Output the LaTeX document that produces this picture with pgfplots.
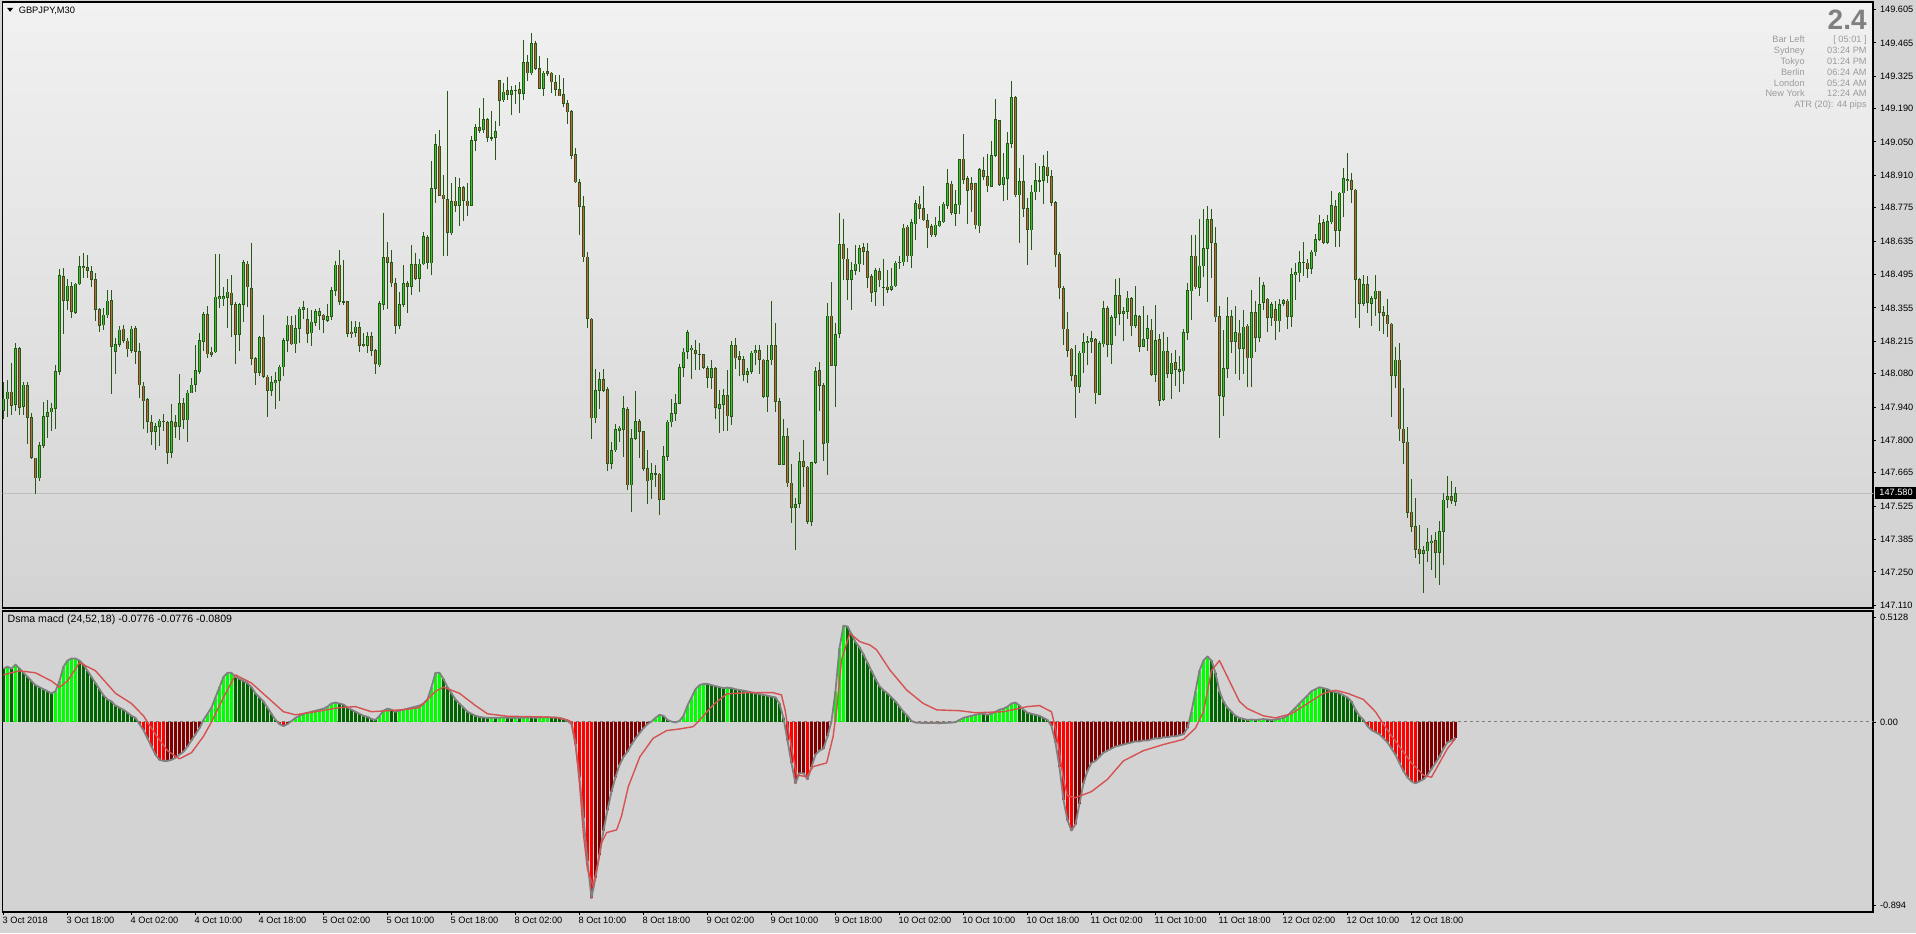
\documentclass[border=0pt]{standalone}
\usepackage{pgfplots}
\pgfplotsset{compat=1.18}
\usepackage{pgfplotstable}
\usepackage{fontspec}
\setmainfont{Liberation Sans}
\definecolor{outerbg}{RGB}{212,212,212}
\definecolor{bgtop}{RGB}{241,241,241}
\definecolor{bgbot}{RGB}{211,211,211}
\definecolor{macdbg}{RGB}{211,211,211}
\definecolor{wick}{RGB}{38,88,22}
\definecolor{bull}{RGB}{58,196,52}
\definecolor{bear}{RGB}{208,94,66}
\definecolor{hlime}{RGB}{0,255,0}
\definecolor{hdgreen}{RGB}{0,100,0}
\definecolor{hred}{RGB}{255,0,0}
\definecolor{hdred}{RGB}{128,0,0}
\definecolor{sigred}{RGB}{214,82,82}
\definecolor{macdgray}{RGB}{128,128,128}
\definecolor{infogray}{RGB}{155,155,155}
\definecolor{pricegray}{RGB}{190,190,190}
\newcommand{\tickfont}{\fontsize{4.6pt}{5.5pt}\selectfont}

\pgfplotstableread{
i o h l c
0 147.927 148.045 147.891 147.975
1 147.975 148.053 147.899 148.005
2 148.005 148.126 147.907 147.948
3 147.953 148.211 147.924 148.186
4 148.186 148.191 147.907 147.940
5 147.943 148.045 147.907 148.034
6 148.032 148.045 147.786 147.899
7 147.899 147.915 147.721 147.729
8 147.729 147.729 147.575 147.644
9 147.644 147.794 147.631 147.781
10 147.781 147.964 147.769 147.902
11 147.902 147.972 147.810 147.919
12 147.919 147.956 147.842 147.937
13 147.935 148.118 147.850 148.089
14 148.089 148.519 148.078 148.492
15 148.488 148.524 148.248 148.386
16 148.386 148.475 148.346 148.448
17 148.446 148.467 148.316 148.341
18 148.337 148.462 148.333 148.456
19 148.456 148.576 148.451 148.529
20 148.524 148.586 148.479 148.529
21 148.524 148.576 148.483 148.511
22 148.508 148.532 148.443 148.475
23 148.475 148.503 148.300 148.349
24 148.349 148.354 148.256 148.284
25 148.284 148.354 148.264 148.326
26 148.326 148.430 148.316 148.386
27 148.386 148.430 147.997 148.195
28 148.172 148.232 148.078 148.203
29 148.203 148.281 148.191 148.264
30 148.268 148.284 148.208 148.219
31 148.216 148.229 148.151 148.183
32 148.177 148.281 148.167 148.268
33 148.268 148.281 148.122 148.172
34 148.172 148.208 147.980 148.032
35 148.029 148.045 147.850 147.967
36 147.972 147.980 147.834 147.880
37 147.875 147.907 147.781 147.838
38 147.838 147.875 147.761 147.859
39 147.859 147.891 147.778 147.883
40 147.883 147.910 147.842 147.883
41 147.875 147.883 147.704 147.750
42 147.750 147.951 147.729 147.880
43 147.875 147.907 147.810 147.859
44 147.859 148.081 147.805 147.956
45 147.956 147.980 147.850 147.888
46 147.888 148.013 147.794 148.001
47 148.001 148.061 147.997 148.034
48 148.034 148.199 148.005 148.094
49 148.089 148.251 148.078 148.219
50 148.216 148.337 148.175 148.329
51 148.329 148.365 148.147 148.164
52 148.172 148.191 148.151 148.162
53 148.172 148.581 148.167 148.402
54 148.394 148.581 148.357 148.402
55 148.394 148.443 148.362 148.402
56 148.399 148.475 148.272 148.423
57 148.419 148.495 148.235 148.370
58 148.370 148.378 148.122 148.245
59 148.245 148.378 148.175 148.370
60 148.370 148.557 148.297 148.545
61 148.540 148.552 148.362 148.443
62 148.438 148.630 148.118 148.143
63 148.143 148.151 148.032 148.086
64 148.086 148.240 148.073 148.232
65 148.232 148.326 148.061 148.070
66 148.066 148.078 147.899 148.010
67 148.010 148.070 147.988 148.045
68 148.042 148.086 147.932 148.053
69 148.053 148.118 147.967 148.110
70 148.110 148.229 148.070 148.221
71 148.219 148.321 148.170 148.284
72 148.284 148.321 148.199 148.204
73 148.204 148.326 148.167 148.269
74 148.269 148.359 148.208 148.350
75 148.350 148.383 148.310 148.359
76 148.308 148.354 148.208 148.248
77 148.251 148.346 148.199 148.297
78 148.294 148.350 148.281 148.342
79 148.324 148.354 148.264 148.341
80 148.326 148.329 148.251 148.308
81 148.302 148.373 148.297 148.321
82 148.321 148.443 148.305 148.430
83 148.430 148.552 148.407 148.535
84 148.535 148.597 148.370 148.383
85 148.383 148.557 148.370 148.381
86 148.383 148.386 148.235 148.248
87 148.255 148.300 148.232 148.248
88 148.253 148.300 148.235 148.276
89 148.276 148.297 148.172 148.199
90 148.203 148.253 148.191 148.199
91 148.199 148.256 148.167 148.237
92 148.235 148.253 148.154 148.178
93 148.178 148.186 148.078 148.123
94 148.118 148.386 148.110 148.375
95 148.370 148.755 148.346 148.568
96 148.568 148.634 148.350 148.545
97 148.545 148.600 148.443 148.459
98 148.459 148.483 148.248 148.284
99 148.281 148.422 148.268 148.370
100 148.370 148.537 148.359 148.459
101 148.459 148.467 148.333 148.446
102 148.446 148.618 148.410 148.537
103 148.537 148.586 148.475 148.480
104 148.480 148.560 148.423 148.540
105 148.540 148.673 148.537 148.654
106 148.651 148.662 148.521 148.545
107 148.544 148.970 148.495 148.857
108 148.857 149.084 148.797 149.040
109 149.035 149.100 148.824 148.828
110 148.828 148.914 148.573 148.811
111 148.811 149.263 148.573 148.670
112 148.670 148.878 148.662 148.803
113 148.803 148.902 148.759 148.784
114 148.784 148.902 148.699 148.860
115 148.860 148.868 148.719 148.805
116 148.805 148.881 148.743 148.784
117 148.784 149.076 148.784 149.056
118 149.056 149.128 149.014 149.112
119 149.112 149.194 149.089 149.099
120 149.104 149.233 149.087 149.144
121 149.144 149.149 149.052 149.068
122 149.069 149.178 149.052 149.069
123 149.069 149.138 148.975 149.095
124 149.308 149.311 149.116 149.225
125 149.225 149.300 149.219 149.259
126 149.267 149.324 149.225 149.251
127 149.250 149.284 149.162 149.266
128 149.267 149.290 149.209 149.267
129 149.271 149.300 149.173 149.254
130 149.254 149.477 149.225 149.384
131 149.384 149.414 149.306 149.340
132 149.340 149.506 149.332 149.462
133 149.462 149.474 149.352 149.357
134 149.357 149.409 149.271 149.274
135 149.274 149.347 149.243 149.340
136 149.347 149.401 149.327 149.336
137 149.339 149.344 149.254 149.300
138 149.300 149.331 149.241 149.271
139 149.271 149.331 149.241 149.243
140 149.250 149.319 149.198 149.211
141 149.211 149.225 149.125 149.177
142 149.178 149.186 148.979 148.995
143 148.998 149.027 148.878 148.884
144 148.881 148.894 148.662 148.781
145 148.781 148.824 148.548 148.569
146 148.569 148.589 148.272 148.310
147 148.310 148.313 147.810 147.896
148 147.896 148.102 147.875 148.010
149 148.010 148.089 147.932 148.057
150 148.057 148.102 148.005 148.010
151 148.016 148.024 147.672 147.704
152 147.704 147.794 147.680 147.761
153 147.761 147.870 147.753 147.847
154 147.842 147.862 147.794 147.854
155 147.847 147.988 147.732 147.935
156 147.932 147.940 147.594 147.615
157 147.615 147.850 147.502 147.810
158 147.810 148.008 147.802 147.880
159 147.880 147.891 147.729 147.839
160 147.839 147.842 147.672 147.683
161 147.683 147.761 147.534 147.631
162 147.635 147.708 147.555 147.664
163 147.661 147.700 147.607 147.661
164 147.661 147.664 147.490 147.555
165 147.555 147.778 147.553 147.734
166 147.734 147.888 147.713 147.878
167 147.878 147.975 147.859 147.915
168 147.915 147.997 147.883 147.956
169 147.956 148.122 147.953 148.107
170 148.107 148.188 148.066 148.172
171 148.172 148.264 148.143 148.253
172 148.180 148.199 148.057 148.188
173 148.178 148.221 148.094 148.164
174 148.162 148.208 148.097 148.162
175 148.162 148.162 148.102 148.107
176 148.102 148.113 148.021 148.065
177 148.065 148.138 148.016 148.102
178 148.102 148.110 147.891 147.937
179 147.935 148.013 147.831 147.951
180 147.951 148.016 147.842 147.988
181 147.988 148.094 147.842 147.902
182 147.902 148.216 147.867 148.199
183 148.199 148.229 148.102 148.146
184 148.151 148.175 148.070 148.139
185 148.139 148.154 148.049 148.078
186 148.078 148.105 148.042 148.089
187 148.089 148.175 148.078 148.167
188 148.167 148.199 148.118 148.178
189 148.178 148.199 148.078 148.139
190 148.139 148.143 147.980 147.985
191 147.985 148.204 147.920 148.138
192 148.138 148.386 148.118 148.199
193 148.199 148.292 147.920 147.964
194 147.964 147.980 147.701 147.701
195 147.701 147.891 147.701 147.818
196 147.818 147.854 147.607 147.623
197 147.623 147.701 147.453 147.521
198 147.521 147.562 147.344 147.534
199 147.537 147.753 147.518 147.713
200 147.713 147.802 147.607 147.691
201 147.691 147.696 147.453 147.461
202 147.461 147.713 147.445 147.709
203 147.709 148.107 147.704 148.091
204 148.094 148.130 147.924 148.032
205 148.032 148.040 147.713 147.789
206 147.789 148.378 147.656 148.321
207 148.321 148.464 148.115 148.115
208 148.115 148.294 147.940 148.245
209 148.248 148.755 148.229 148.621
210 148.621 148.727 148.472 148.561
211 148.561 148.605 148.389 148.475
212 148.475 148.548 148.349 148.513
213 148.513 148.621 148.495 148.540
214 148.540 148.621 148.508 148.605
215 148.608 148.626 148.537 148.592
216 148.592 148.630 148.440 148.483
217 148.488 148.500 148.381 148.419
218 148.423 148.524 148.365 148.513
219 148.508 148.524 148.443 148.471
220 148.443 148.560 148.365 148.443
221 148.443 148.513 148.419 148.432
222 148.432 148.524 148.427 148.448
223 148.448 148.552 148.443 148.545
224 148.548 148.573 148.521 148.548
225 148.548 148.706 148.532 148.691
226 148.694 148.703 148.548 148.573
227 148.573 148.727 148.521 148.714
228 148.707 148.808 148.638 148.792
229 148.792 148.824 148.727 148.772
230 148.772 148.865 148.719 148.724
231 148.724 148.748 148.605 148.691
232 148.698 148.706 148.654 148.662
233 148.662 148.738 148.651 148.703
234 148.699 148.784 148.694 148.719
235 148.716 148.800 148.711 148.792
236 148.784 148.935 148.771 148.876
237 148.876 148.888 148.746 148.755
238 148.751 148.849 148.698 148.787
239 148.787 148.979 148.748 148.979
240 148.979 149.084 148.873 148.894
241 148.897 148.909 148.707 148.849
242 148.878 148.905 148.759 148.849
243 148.878 148.881 148.686 148.703
244 148.699 148.941 148.667 148.935
245 148.933 148.987 148.889 148.905
246 148.905 149.000 148.841 148.865
247 148.865 149.056 148.862 148.995
248 148.995 149.233 148.987 149.144
249 149.141 149.144 148.868 148.873
250 148.873 149.003 148.805 148.905
251 148.897 149.092 148.808 149.043
252 149.043 149.306 149.024 149.238
253 149.238 149.241 148.819 148.829
254 148.829 148.943 148.630 148.886
255 148.886 148.995 148.735 148.772
256 148.772 148.816 148.537 148.683
257 148.683 148.873 148.600 148.841
258 148.841 148.962 148.808 148.889
259 148.889 148.949 148.844 148.889
260 148.889 148.998 148.792 148.949
261 148.946 149.011 148.878 148.910
262 148.905 148.935 148.784 148.797
263 148.797 148.805 148.527 148.578
264 148.578 148.589 148.394 148.438
265 148.438 148.446 148.199 148.269
266 148.268 148.337 148.151 148.178
267 148.183 148.188 148.050 148.073
268 148.073 148.203 147.896 148.026
269 148.026 148.175 148.001 148.167
270 148.167 148.251 148.086 148.211
271 148.211 148.240 148.118 148.216
272 148.216 148.260 148.167 148.227
273 148.224 148.232 147.956 148.000
274 147.993 148.216 147.992 148.208
275 148.204 148.386 148.191 148.354
276 148.354 148.362 148.151 148.203
277 148.203 148.326 148.123 148.316
278 148.316 148.479 148.240 148.407
279 148.407 148.483 148.284 148.333
280 148.333 148.362 148.216 148.342
281 148.341 148.427 148.310 148.397
282 148.397 148.402 148.240 148.281
283 148.281 148.446 148.272 148.324
284 148.321 148.326 148.172 148.195
285 148.195 148.362 148.191 148.224
286 148.227 148.326 148.175 148.269
287 148.264 148.308 148.070 148.078
288 148.078 148.370 148.045 148.219
289 148.224 148.248 147.945 147.969
290 147.972 148.256 147.964 148.175
291 148.175 148.232 148.061 148.083
292 148.083 148.167 147.977 148.126
293 148.126 148.178 148.029 148.099
294 148.099 148.156 148.005 148.091
295 148.091 148.268 148.037 148.253
296 148.253 148.459 148.221 148.427
297 148.427 148.662 148.305 148.573
298 148.573 148.662 148.435 148.443
299 148.443 148.727 148.407 148.532
300 148.532 148.768 148.487 148.605
301 148.605 148.781 148.381 148.727
302 148.727 148.772 148.483 148.630
303 148.626 148.694 148.297 148.318
304 148.321 148.365 147.813 147.988
305 147.985 148.264 147.904 148.102
306 148.102 148.399 148.061 148.321
307 148.321 148.346 148.167 148.216
308 148.216 148.365 148.078 148.253
309 148.251 148.305 148.053 148.186
310 148.186 148.346 148.078 148.276
311 148.281 148.289 148.024 148.147
312 148.147 148.430 148.024 148.337
313 148.337 148.386 148.172 148.232
314 148.232 148.487 148.216 148.370
315 148.378 148.464 148.346 148.451
316 148.394 148.397 148.256 148.316
317 148.316 148.383 148.281 148.370
318 148.350 148.383 148.221 148.302
319 148.302 148.394 148.256 148.370
320 148.373 148.394 148.362 148.386
321 148.386 148.394 148.269 148.321
322 148.321 148.524 148.277 148.495
323 148.495 148.545 148.389 148.503
324 148.503 148.594 148.467 148.548
325 148.548 148.634 148.488 148.548
326 148.545 148.560 148.483 148.521
327 148.521 148.600 148.500 148.589
328 148.589 148.667 148.573 148.643
329 148.643 148.743 148.638 148.711
330 148.714 148.727 148.621 148.630
331 148.630 148.746 148.625 148.719
332 148.716 148.844 148.706 148.784
333 148.781 148.808 148.613 148.681
334 148.681 148.844 148.613 148.837
335 148.837 148.941 148.735 148.897
336 148.889 149.003 148.845 148.893
337 148.889 148.922 148.795 148.852
338 148.849 148.854 148.316 148.475
339 148.475 148.480 148.272 148.375
340 148.375 148.492 148.365 148.454
341 148.454 148.492 148.337 148.378
342 148.375 148.406 148.281 148.394
343 148.394 148.492 148.324 148.427
344 148.427 148.427 148.260 148.337
345 148.337 148.362 148.248 148.324
346 148.326 148.394 148.235 148.289
347 148.289 148.294 147.899 148.073
348 148.073 148.191 148.021 148.139
349 148.139 148.208 147.799 147.850
350 147.850 148.021 147.704 147.794
351 147.794 147.859 147.477 147.498
352 147.502 147.639 147.417 147.441
353 147.441 147.558 147.307 147.344
354 147.347 147.445 147.282 147.328
355 147.328 147.359 147.161 147.342
356 147.339 147.437 147.291 147.375
357 147.375 147.407 147.258 147.380
358 147.383 147.420 147.226 147.331
359 147.331 147.466 147.196 147.420
360 147.420 147.583 147.279 147.553
361 147.553 147.651 147.518 147.566
362 147.566 147.631 147.534 147.550
363 147.545 147.604 147.526 147.580
}\candles

\pgfplotstableread[row sep=\\]{
i m k\\
0 0.26 2\\ 1 0.27 1\\ 2 0.26 2\\ 3 0.28 1\\ 4 0.26 2\\ 5 0.24 2\\ 6 0.22 2\\ 7 0.20 2\\ 8 0.18 2\\ 9 0.17 2\\
10 0.16 2\\ 11 0.15 2\\ 12 0.14 2\\ 13 0.15 1\\ 14 0.20 1\\ 15 0.27 1\\ 16 0.30 1\\ 17 0.31 1\\ 18 0.31 1\\ 19 0.30 2\\
20 0.28 2\\ 21 0.25 2\\ 22 0.22 2\\ 23 0.19 2\\ 24 0.16 2\\ 25 0.13 2\\ 26 0.11 2\\ 27 0.10 2\\ 28 0.08 2\\ 29 0.07 2\\
30 0.06 2\\ 31 0.045 2\\ 32 0.03 2\\ 33 0.02 2\\ 34 -0.01 3\\ 35 -0.04 3\\ 36 -0.08 3\\ 37 -0.12 3\\ 38 -0.16 3\\ 39 -0.185 3\\
40 -0.19 3\\ 41 -0.19 4\\ 42 -0.185 4\\ 43 -0.175 4\\ 44 -0.16 4\\ 45 -0.145 4\\ 46 -0.12 4\\ 47 -0.09 4\\ 48 -0.06 4\\ 49 -0.03 4\\
50 0.01 1\\ 51 0.04 1\\ 52 0.07 1\\ 53 0.12 1\\ 54 0.17 1\\ 55 0.22 1\\ 56 0.24 1\\ 57 0.24 1\\ 58 0.22 2\\ 59 0.21 2\\
60 0.20 2\\ 61 0.19 2\\ 62 0.17 2\\ 63 0.14 2\\ 64 0.12 2\\ 65 0.10 2\\ 66 0.07 2\\ 67 0.04 2\\ 68 0.01 2\\ 69 -0.01 3\\
70 -0.02 3\\ 71 -0.01 4\\ 72 0.005 1\\ 73 0.02 1\\ 74 0.03 1\\ 75 0.04 1\\ 76 0.045 1\\ 77 0.05 1\\ 78 0.055 1\\ 79 0.06 1\\
80 0.065 1\\ 81 0.075 1\\ 82 0.09 1\\ 83 0.095 1\\ 84 0.09 2\\ 85 0.085 2\\ 86 0.07 2\\ 87 0.06 2\\ 88 0.05 2\\ 89 0.04 2\\
90 0.03 2\\ 91 0.025 2\\ 92 0.015 2\\ 93 0.01 2\\ 94 0.03 1\\ 95 0.055 1\\ 96 0.065 1\\ 97 0.06 2\\ 98 0.05 2\\ 99 0.055 1\\
100 0.06 1\\ 101 0.065 1\\ 102 0.07 1\\ 103 0.075 1\\ 104 0.08 1\\ 105 0.09 1\\ 106 0.11 1\\ 107 0.17 1\\ 108 0.24 1\\ 109 0.24 1\\
110 0.21 2\\ 111 0.17 2\\ 112 0.14 2\\ 113 0.11 2\\ 114 0.09 2\\ 115 0.07 2\\ 116 0.05 2\\ 117 0.04 2\\ 118 0.03 2\\ 119 0.025 2\\
120 0.022 2\\ 121 0.02 2\\ 122 0.021 1\\ 123 0.02 2\\ 124 0.021 1\\ 125 0.022 1\\ 126 0.021 2\\ 127 0.02 2\\ 128 0.021 1\\ 129 0.02 2\\
130 0.021 1\\ 131 0.022 1\\ 132 0.022 2\\ 133 0.021 2\\ 134 0.022 1\\ 135 0.022 1\\ 136 0.023 1\\ 137 0.022 2\\ 138 0.022 2\\ 139 0.02 2\\
140 0.015 2\\ 141 0.005 2\\ 142 -0.01 3\\ 143 -0.11 3\\ 144 -0.27 3\\ 145 -0.47 3\\ 146 -0.68 3\\ 147 -0.86 3\\ 148 -0.76 4\\ 149 -0.65 4\\
150 -0.53 4\\ 151 -0.43 4\\ 152 -0.34 4\\ 153 -0.27 4\\ 154 -0.21 4\\ 155 -0.17 4\\ 156 -0.145 4\\ 157 -0.11 4\\ 158 -0.08 4\\ 159 -0.055 4\\
160 -0.03 4\\ 161 -0.01 4\\ 162 0.002 1\\ 163 0.02 1\\ 164 0.035 1\\ 165 0.03 2\\ 166 0.01 2\\ 167 0.002 2\\ 168 -0.002 4\\ 169 0.005 1\\
170 0.03 1\\ 171 0.08 1\\ 172 0.12 1\\ 173 0.16 1\\ 174 0.18 1\\ 175 0.186 1\\ 176 0.186 2\\ 177 0.18 2\\ 178 0.175 2\\ 179 0.17 2\\
180 0.165 2\\ 181 0.168 1\\ 182 0.165 2\\ 183 0.16 2\\ 184 0.156 2\\ 185 0.153 2\\ 186 0.149 2\\ 187 0.145 2\\ 188 0.14 2\\ 189 0.136 2\\
190 0.132 2\\ 191 0.128 2\\ 192 0.124 2\\ 193 0.12 2\\ 194 0.09 2\\ 195 0.02 2\\ 196 -0.09 3\\ 197 -0.20 3\\ 198 -0.30 3\\ 199 -0.25 4\\
200 -0.25 4\\ 201 -0.28 3\\ 202 -0.22 4\\ 203 -0.16 4\\ 204 -0.14 4\\ 205 -0.13 4\\ 206 -0.07 4\\ 207 0.002 1\\ 208 0.15 1\\ 209 0.36 1\\
210 0.47 1\\ 211 0.466 2\\ 212 0.43 2\\ 213 0.39 2\\ 214 0.365 2\\ 215 0.33 2\\ 216 0.29 2\\ 217 0.25 2\\ 218 0.21 2\\ 219 0.175 2\\
220 0.155 2\\ 221 0.14 2\\ 222 0.12 2\\ 223 0.10 2\\ 224 0.075 2\\ 225 0.05 2\\ 226 0.03 2\\ 227 0.005 2\\ 228 -0.003 3\\ 229 -0.004 3\\
230 -0.005 3\\ 231 -0.005 4\\ 232 -0.005 3\\ 233 -0.005 4\\ 234 -0.006 3\\ 235 -0.005 4\\ 236 -0.004 4\\ 237 -0.003 4\\ 238 -0.001 4\\ 239 0.01 1\\
240 0.02 1\\ 241 0.025 1\\ 242 0.03 1\\ 243 0.035 1\\ 244 0.04 1\\ 245 0.04 2\\ 246 0.035 2\\ 247 0.04 1\\ 248 0.05 1\\ 249 0.06 1\\
250 0.065 1\\ 251 0.075 1\\ 252 0.09 1\\ 253 0.095 1\\ 254 0.08 2\\ 255 0.06 2\\ 256 0.045 2\\ 257 0.04 2\\ 258 0.035 2\\ 259 0.03 2\\
260 0.02 2\\ 261 0.01 2\\ 262 -0.02 3\\ 263 -0.10 3\\ 264 -0.22 3\\ 265 -0.38 3\\ 266 -0.48 3\\ 267 -0.53 3\\ 268 -0.50 4\\ 269 -0.40 4\\
270 -0.30 4\\ 271 -0.24 4\\ 272 -0.20 4\\ 273 -0.19 4\\ 274 -0.17 4\\ 275 -0.15 4\\ 276 -0.14 4\\ 277 -0.13 4\\ 278 -0.12 4\\ 279 -0.115 4\\
280 -0.11 4\\ 281 -0.105 4\\ 282 -0.10 4\\ 283 -0.095 4\\ 284 -0.095 4\\ 285 -0.09 4\\ 286 -0.09 4\\ 287 -0.085 4\\ 288 -0.08 4\\ 289 -0.08 4\\
290 -0.075 4\\ 291 -0.075 4\\ 292 -0.07 4\\ 293 -0.07 4\\ 294 -0.065 4\\ 295 -0.06 4\\ 296 -0.03 4\\ 297 0.05 1\\ 298 0.15 1\\ 299 0.25 1\\
300 0.30 1\\ 301 0.32 1\\ 302 0.30 2\\ 303 0.24 2\\ 304 0.15 2\\ 305 0.10 2\\ 306 0.07 2\\ 307 0.05 2\\ 308 0.03 2\\ 309 0.02 2\\
310 0.015 2\\ 311 0.01 2\\ 312 0.012 1\\ 313 0.01 2\\ 314 0.012 1\\ 315 0.014 1\\ 316 0.012 2\\ 317 0.01 2\\ 318 0.012 1\\ 319 0.015 1\\
320 0.02 1\\ 321 0.03 1\\ 322 0.05 1\\ 323 0.07 1\\ 324 0.09 1\\ 325 0.11 1\\ 326 0.13 1\\ 327 0.15 1\\ 328 0.16 1\\ 329 0.17 1\\
330 0.165 2\\ 331 0.16 2\\ 332 0.15 2\\ 333 0.145 2\\ 334 0.14 2\\ 335 0.13 2\\ 336 0.12 2\\ 337 0.10 2\\ 338 0.06 2\\ 339 0.03 2\\
340 0.01 2\\ 341 -0.02 3\\ 342 -0.04 3\\ 343 -0.05 3\\ 344 -0.06 3\\ 345 -0.08 3\\ 346 -0.10 3\\ 347 -0.13 3\\ 348 -0.16 3\\ 349 -0.20 3\\
350 -0.24 3\\ 351 -0.27 3\\ 352 -0.29 3\\ 353 -0.30 3\\ 354 -0.29 4\\ 355 -0.28 4\\ 356 -0.26 4\\ 357 -0.23 4\\ 358 -0.20 4\\ 359 -0.17 4\\
360 -0.13 4\\ 361 -0.10 4\\ 362 -0.09 4\\ 363 -0.0776 4\\
}\macd

\pgfplotstableread[row sep=\\]{
i s\\
0 0.23\\ 4 0.25\\ 8 0.24\\ 12 0.20\\ 14 0.17\\ 16 0.20\\ 19 0.29\\ 23 0.25\\ 28 0.14\\ 32 0.09\\
35 0.03\\ 38 -0.06\\ 41 -0.14\\ 44 -0.18\\ 47 -0.15\\ 50 -0.07\\ 52 0.0\\ 55 0.12\\ 58 0.23\\ 62 0.19\\
66 0.12\\ 70 0.05\\ 73 0.035\\ 78 0.05\\ 84 0.07\\ 88 0.075\\ 92 0.05\\ 96 0.055\\ 100 0.06\\ 104 0.07\\
108 0.15\\ 110 0.17\\ 114 0.14\\ 118 0.08\\ 121 0.04\\ 126 0.028\\ 134 0.025\\ 138 0.022\\ 141 0.01\\ 142 0.0\\
143 -0.10\\ 144 -0.30\\ 145 -0.55\\ 146 -0.72\\ 147.4 -0.80\\ 148.3 -0.72\\ 149.5 -0.59\\ 150.8 -0.54\\ 153.3 -0.527\\ 154.5 -0.46\\
156.2 -0.316\\ 159.1 -0.17\\ 162.4 -0.08\\ 165.8 -0.042\\ 169.1 -0.034\\ 172.4 -0.023\\ 174.1 0.01\\ 177.4 0.083\\ 180.8 0.137\\ 185.8 0.143\\
192.4 0.143\\ 194.5 0.132\\ 195.4 0.059\\ 196.2 -0.039\\ 198.3 -0.259\\ 200.8 -0.267\\ 202.4 -0.218\\ 205.8 -0.20\\ 207.4 -0.072\\ 208.3 0.059\\
209.5 0.303\\ 211.6 0.433\\ 214.1 0.392\\ 216.6 0.376\\ 218.3 0.352\\ 221.6 0.254\\ 225.8 0.156\\ 229.9 0.091\\ 233.3 0.059\\ 239.1 0.055\\
243 0.045\\ 250 0.05\\ 256 0.075\\ 259 0.08\\ 262 0.05\\ 263 -0.03\\ 264 -0.15\\ 265 -0.28\\ 266 -0.36\\ 268 -0.37\\
272 -0.34\\ 276 -0.28\\ 280 -0.19\\ 285 -0.14\\ 290 -0.11\\ 295 -0.085\\ 298 -0.03\\ 300 0.05\\ 302 0.25\\ 304 0.30\\
306 0.22\\ 309 0.10\\ 311 0.065\\ 315 0.03\\ 318 0.02\\ 322 0.04\\ 326 0.09\\ 330 0.14\\ 333 0.155\\ 336 0.14\\
340 0.11\\ 343 0.05\\ 346 -0.04\\ 349 -0.12\\ 352 -0.20\\ 355 -0.26\\ 357 -0.27\\ 359 -0.20\\ 361 -0.13\\ 363 -0.0809\\
}\signal

\pgfplotsset{
  mtaxis/.style={
    scale only axis, width=935.15pt,
    xmin=-0.2, xmax=467.4,
    axis line style={black, line width=0.6pt},
    tick style={black, line width=0.5pt},
    tick align=outside, major tick length=1.3pt,
    tick label style={font=\tickfont, inner sep=0pt},
    ytick pos=right, yticklabel pos=right,
    yticklabel style={anchor=west, xshift=2pt},
  },
  errbar/.style 2 args={only marks, mark=*, mark size=0pt,
    mark options={draw=none, fill=none}, forget plot,
    error bars/.cd, y dir=both, y explicit, error mark=none,
    error bar style={color=#1, line width=#2, solid}},
}

\begin{document}
\begin{tikzpicture}
\fill[outerbg] (0pt,0pt) rectangle (958pt,466.5pt);

% ---------------- price panel ----------------
\begin{axis}[mtaxis,
  at={(1.35pt,162.5pt)}, anchor=south west, height=303pt,
  ymin=147.099, ymax=149.636,
  axis background/.style={shade, top color=bgtop, bottom color=bgbot},
  xtick=\empty,
  ytick={147.110,147.250,147.385,147.525,147.665,147.800,147.940,148.080,148.215,148.355,148.495,148.635,148.775,148.910,149.050,149.190,149.325,149.465,149.605},
  yticklabels={147.110,147.250,147.385,147.525,147.665,147.800,147.940,148.080,148.215,148.355,148.495,148.635,148.775,148.910,149.050,149.190,149.325,149.465,149.605},
]
\addplot[pricegray, line width=0.5pt, forget plot] coordinates {(-1,147.580) (470,147.580)};
% wicks
\addplot[errbar={wick}{0.5pt}] table[x=i, y expr={(\thisrow{h}+\thisrow{l})/2}, y error expr={(\thisrow{h}-\thisrow{l})/2}] {\candles};
% body outlines
\addplot[errbar={wick}{1.6pt}] table[x=i, y expr={(\thisrow{o}+\thisrow{c})/2}, y error expr={abs(\thisrow{c}-\thisrow{o})/2+0.0013}] {\candles};
% bull fills
\addplot[restrict expr to domain={\thisrow{c}-\thisrow{o}}{0.0005:10}, errbar={bull}{0.9pt}]
  table[x=i, y expr={(\thisrow{o}+\thisrow{c})/2}, y error expr={max(abs(\thisrow{c}-\thisrow{o})/2-0.0015,0)}] {\candles};
% bear fills
\addplot[restrict expr to domain={\thisrow{c}-\thisrow{o}}{-10:-0.0005}, errbar={bear}{0.9pt}]
  table[x=i, y expr={(\thisrow{o}+\thisrow{c})/2}, y error expr={max(abs(\thisrow{c}-\thisrow{o})/2-0.0015,0)}] {\candles};
\end{axis}

% ---------------- MACD panel ----------------
\begin{axis}[mtaxis,
  at={(1.35pt,10.5pt)}, anchor=south west, height=150.5pt,
  ymin=-0.928, ymax=0.542,
  axis background/.style={fill=macdbg},
  xtick={0,16,...,352},
  xticklabels={3 Oct 2018,3 Oct 18:00,4 Oct 02:00,4 Oct 10:00,4 Oct 18:00,5 Oct 02:00,5 Oct 10:00,5 Oct 18:00,8 Oct 02:00,8 Oct 10:00,8 Oct 18:00,9 Oct 02:00,9 Oct 10:00,9 Oct 18:00,10 Oct 02:00,10 Oct 10:00,10 Oct 18:00,11 Oct 02:00,11 Oct 10:00,11 Oct 18:00,12 Oct 02:00,12 Oct 10:00,12 Oct 18:00},
  xtick pos=bottom, xticklabel pos=bottom,
  xticklabel style={anchor=north west, xshift=-0.6pt, yshift=-0.8pt},
  ytick={-0.894,0,0.5128}, yticklabels={-0.894,0.00,0.5128},
  ytick style={line width=0.4pt},
]
\addplot[macdgray, dash pattern=on 1.5pt off 1.5pt, line width=0.5pt, forget plot] coordinates {(-1,0) (470,0)};
\addplot[ybar, bar width=0.72, bar shift=0pt, fill=hlime, draw=none, restrict expr to domain={\thisrow{k}}{1:1}] table[x=i, y=m] {\macd};
\addplot[ybar, bar width=0.72, bar shift=0pt, fill=hdgreen, draw=none, restrict expr to domain={\thisrow{k}}{2:2}] table[x=i, y=m] {\macd};
\addplot[ybar, bar width=0.72, bar shift=0pt, fill=hred, draw=none, restrict expr to domain={\thisrow{k}}{3:3}] table[x=i, y=m] {\macd};
\addplot[ybar, bar width=0.72, bar shift=0pt, fill=hdred, draw=none, restrict expr to domain={\thisrow{k}}{4:4}] table[x=i, y=m] {\macd};
\addplot[macdgray, line width=0.9pt, line join=round] table[x=i, y=m] {\macd};
\addplot[sigred, line width=0.7pt, line join=round] table[x=i, y=s] {\signal};
\end{axis}

% ---------------- overlay texts ----------------
\fill[black] (3.5pt,462.6pt) -- (6.6pt,462.6pt) -- (5.05pt,460.6pt) -- cycle;
\node[anchor=west, inner sep=0pt, font=\fontsize{4.65pt}{5.5pt}\selectfont] at (9.2pt,461.3pt) {GBPJPY,M30};
\node[anchor=east, inner sep=0pt, font=\bfseries\fontsize{14pt}{14pt}\selectfont, text=macdgray] at (933.5pt,456.5pt) {2.4};
\begin{scope}[every node/.style={inner sep=0pt, font=\tickfont, text=infogray}]
\node[anchor=base east] at (902.5pt,445.25pt) {Bar Left};
\node[anchor=base east] at (902.5pt,439.8pt) {Sydney};
\node[anchor=base east] at (902.5pt,434.35pt) {Tokyo};
\node[anchor=base east] at (902.5pt,428.9pt) {Berlin};
\node[anchor=base east] at (902.5pt,423.45pt) {London};
\node[anchor=base east] at (902.5pt,418.0pt) {New York};
\node[anchor=base east] at (933.5pt,445.25pt) {[ 05:01 ]};
\node[anchor=base east] at (933.5pt,439.8pt) {03:24 PM};
\node[anchor=base east] at (933.5pt,434.35pt) {01:24 PM};
\node[anchor=base east] at (933.5pt,428.9pt) {06:24 AM};
\node[anchor=base east] at (933.5pt,423.45pt) {05:24 AM};
\node[anchor=base east] at (933.5pt,418.0pt) {12:24 AM};
\node[anchor=base east] at (933.5pt,412.55pt) {ATR (20): 44 pips};
\end{scope}
\fill[black] (937.6pt,217pt) rectangle (958pt,223.2pt);
\node[anchor=west, inner sep=0pt, font=\tickfont, text=white] at (939.5pt,220.1pt) {147.580};
\node[anchor=base west, inner sep=0pt, font=\fontsize{5.3pt}{6pt}\selectfont] at (3.6pt,155.2pt) {Dsma macd (24,52,18) -0.0776 -0.0776 -0.0809};

\pgfresetboundingbox
\path[use as bounding box] (0pt,0pt) rectangle (958pt,466.5pt);
\end{tikzpicture}
\end{document}
